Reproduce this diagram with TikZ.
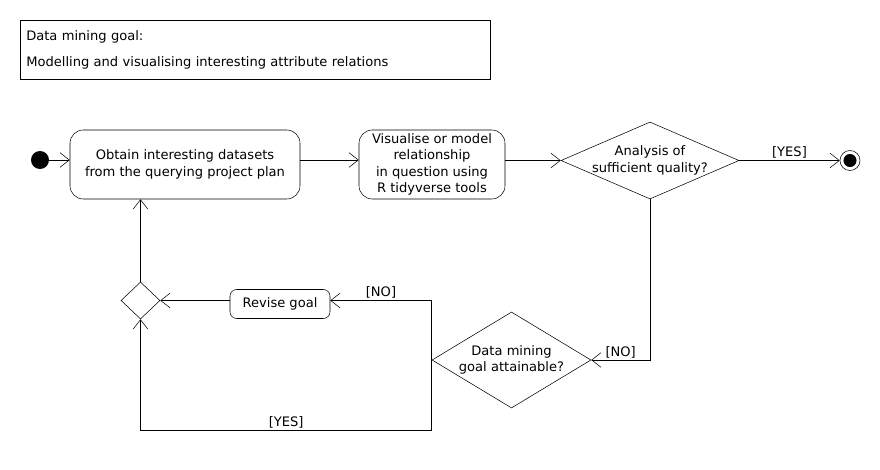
\documentclass[tikz,border=0pt]{standalone}
\usepackage{fontspec}
\setmainfont{DejaVu Sans}
\usetikzlibrary{arrows.meta,shapes.geometric}

\begin{document}
\begin{tikzpicture}[x=0.75pt,y=0.75pt,yscale=-1,xscale=1,
  every node/.style={font=\fontsize{9.8}{12.2}\selectfont},
  flow/.style={draw, -{Straight Barb[length=7pt,width=11pt]}},
  activity/.style={draw, rounded corners=10pt, align=center, inner sep=0pt},
  decision/.style={draw, diamond, align=center, inner ysep=0pt},
  guard/.style={above, inner sep=1.5pt}]
\useasboundingbox (0,0) rectangle (880,470);

%Shape: Rectangle [id:goalbox]
\node (goal) [draw, anchor=north west, minimum width=352.5pt, minimum height=44.25pt,
  inner xsep=4.5pt, text width=343.5pt, align=left] at (20,20)
  {Data mining goal:\\[7.5pt]Modelling and visualising interesting attribute relations};

%Shape: Circle [id:initial]
\node (start) [circle, fill=black, minimum size=13.5pt, inner sep=0pt] at (40,160) {};
%Shape: Rounded Rect [id:obtain]
\node (obtain) [activity, minimum width=172.5pt, minimum height=51.75pt] at (185,164.5)
  {Obtain interesting datasets\\from the querying project plan};
%Shape: Rounded Rect [id:visualise]
\node (visualise) [activity, minimum width=109.5pt, minimum height=51.75pt] at (432,164.5)
  {Visualise or model\\relationship\\in question using\\R tidyverse tools};
%Shape: Diamond [id:quality]
\node (quality) [decision, aspect=2.3, inner xsep=-15pt, minimum width=133.5pt, minimum height=57.75pt] at (650,160.5)
  {Analysis of\\sufficient quality?};
%Shape: Circle [id:final]
\node (final) [circle, draw, minimum size=15pt, inner sep=0pt,
  path picture={\fill (path picture bounding box.center) circle (4.9pt);}] at (850,160.5) {};
%Shape: Diamond [id:attainable]
\node (attainable) [decision, aspect=1.66, inner xsep=-6pt, minimum width=119.25pt, minimum height=72pt] at (511.5,360)
  {Data mining\\goal attainable?};
%Shape: Rounded Rect [id:revise]
\node (revise) [activity, rounded corners=5pt, minimum width=75pt, minimum height=21.75pt] at (280,304)
  {Revise goal};
%Shape: Diamond [id:merge]
\node (merge) [draw, diamond, inner sep=0pt, minimum width=29.25pt, minimum height=27.75pt] at (140.5,300.5) {};
\coordinate (bottom) at (140.5,430);

%Straight Lines
\draw [flow] (start) -- (start -| obtain.west);
\draw [flow] (obtain.east |- start) -- (visualise.west |- start);
\draw [flow] (visualise.east |- quality) -- (quality.west);
\draw [flow] (quality.east) -- node [guard] {[YES]} (final.west);
\draw [flow] (quality.south) |- node [guard, pos=0.75] {[NO]} (attainable.east);
\draw [flow] (attainable.west) |- node [guard, pos=0.75] {[NO]} (revise.east |- merge);
\draw [flow] (attainable.west) -- (attainable.west |- bottom) -- node [guard] {[YES]} (bottom) -- (merge.south);
\draw [flow] (revise.west |- merge) -- (merge.east);
\draw [flow] (merge.north) -- (merge.north |- obtain.south);

\end{tikzpicture}
\end{document}
